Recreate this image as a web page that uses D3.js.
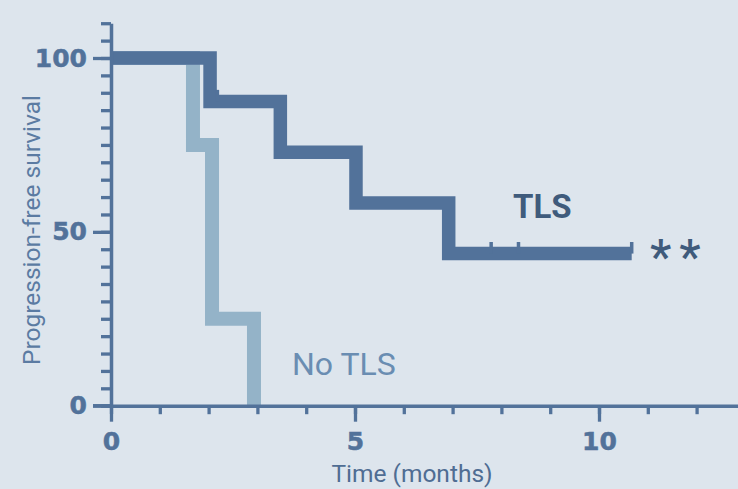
<!DOCTYPE html>
<html>
<head>
<meta charset="utf-8">
<script src="https://cdn.jsdelivr.net/npm/d3@7"></script>
<style>
  html, body { margin: 0; padding: 0; background: #dde5ed; }
  svg { display: block; }
</style>
</head>
<body>
<svg id="chart" width="738" height="489"></svg>
<script>
// Kaplan–Meier steps: event times (months) and survival (%) after each step
const tlsTimes = [0, 2.03, 3.47, 5.02, 6.92];
const tlsSurvival = [100, 87.5, 72.9, 58.3, 43.75];
const tlsEnd = 10.67;
const tlsCensored = [2.18, 7.79, 8.35, 10.67];

const noTlsTimes = [0, 1.68, 2.07, 2.93];
const noTlsSurvival = [100, 75, 25, 0];
const noTlsEnd = 2.93;

const yMajorTicks = [0, 50, 100];
const xMajorTicks = [0, 5, 10];

const axisColor = "#52729a";
const tlsColor = "#52729a";
const noTlsColor = "#94b3c8";

const svg = d3.select("#chart");

const x = d3.scaleLinear().domain([0, 13]).range([111, 111 + 48.8 * 13]);
const y = d3.scaleLinear().domain([0, 110]).range([405.7, 405.7 - 3.477 * 110]);

// step path built from the survival table
function stepPoints(times, surv, end) {
  const pts = [[times[0], surv[0]]];
  for (let i = 1; i < times.length; i++) {
    pts.push([times[i], surv[i - 1]]);
    pts.push([times[i], surv[i]]);
  }
  if (end > times[times.length - 1]) pts.push([end, surv[surv.length - 1]]);
  return pts;
}
const line = d3.line().x(d => x(d[0])).y(d => y(d[1]));

function survivalAt(times, surv, t) {
  let s = surv[0];
  for (let i = 0; i < times.length; i++) if (times[i] <= t) s = surv[i];
  return s;
}

// curves
svg.append("path")
  .attr("d", line(stepPoints(noTlsTimes, noTlsSurvival, noTlsEnd)))
  .attr("fill", "none").attr("stroke", noTlsColor)
  .attr("stroke-width", 14).attr("stroke-linejoin", "miter").attr("stroke-linecap", "butt");

svg.append("path")
  .attr("d", line(stepPoints(tlsTimes, tlsSurvival, tlsEnd)))
  .attr("fill", "none").attr("stroke", tlsColor)
  .attr("stroke-width", 13.5).attr("stroke-linejoin", "miter").attr("stroke-linecap", "butt");

// censor marks
svg.selectAll("line.censor").data(tlsCensored).join("line")
  .attr("class", "censor")
  .attr("x1", d => x(d)).attr("x2", d => x(d))
  .attr("y1", d => y(survivalAt(tlsTimes, tlsSurvival, d)))
  .attr("y2", d => y(survivalAt(tlsTimes, tlsSurvival, d)) - 11.6)
  .attr("stroke", tlsColor).attr("stroke-width", 3.5);

// axes
function styleAxis(g) {
  g.selectAll(".domain").attr("stroke", axisColor).attr("stroke-width", 3.5);
  g.selectAll(".tick line").attr("stroke", axisColor).attr("stroke-width", 3.3);
  g.selectAll(".tick text")
    .attr("fill", axisColor)
    .attr("stroke", axisColor)
    .attr("stroke-width", 0.5)
    .attr("font-family", "DejaVu Sans")
    .attr("font-weight", "bold")
    .attr("font-size", 25);
}

const yMinor = svg.append("g").attr("transform", `translate(${x(0)},0)`)
  .call(d3.axisLeft(y).tickValues(d3.range(0, 111, 5)).tickSize(10).tickFormat("").tickSizeOuter(0));
styleAxis(yMinor);
const yMajor = svg.append("g").attr("transform", `translate(${x(0)},0)`)
  .call(d3.axisLeft(y).tickValues(yMajorTicks).tickSize(18).tickPadding(6).tickSizeOuter(0));
styleAxis(yMajor);
yMajor.select(".domain").remove();

const xMinor = svg.append("g").attr("transform", `translate(0,${y(0)})`)
  .call(d3.axisBottom(x).tickValues(d3.range(0, 14, 1)).tickSize(8.5).tickFormat("").tickSizeOuter(0));
styleAxis(xMinor);
const xMajor = svg.append("g").attr("transform", `translate(0,${y(0)})`)
  .call(d3.axisBottom(x).tickValues(xMajorTicks).tickSize(16).tickPadding(11).tickSizeOuter(0));
styleAxis(xMajor);
xMajor.select(".domain").remove();

// x-axis line reaches left to the major tick at 0
svg.append("line")
  .attr("x1", x(0) - 18).attr("x2", x(0))
  .attr("y1", y(0)).attr("y2", y(0))
  .attr("stroke", axisColor).attr("stroke-width", 3.3);

// axis titles
svg.append("text")
  .attr("x", 412).attr("y", 482)
  .attr("text-anchor", "middle")
  .attr("font-family", "Roboto").attr("font-size", 24.5)
  .attr("fill", "#4f6d93")
  .text("Time (months)");

svg.append("text")
  .attr("transform", "translate(39.5,230) rotate(-90)")
  .attr("text-anchor", "middle")
  .attr("font-family", "Roboto").attr("font-size", 24.5)
  .attr("fill", "#5b7ba2")
  .text("Progression-free survival");

// curve labels
svg.append("text")
  .attr("x", 513).attr("y", 218)
  .attr("font-family", "Roboto").attr("font-weight", "bold").attr("font-size", 33)
  .attr("fill", "#3f5b7c")
  .text("TLS");

svg.append("text")
  .attr("x", 292).attr("y", 375)
  .attr("font-family", "Roboto").attr("font-size", 32)
  .attr("fill", "#6a8db2")
  .text("No TLS");

svg.append("text")
  .attr("x", 650).attr("y", 273)
  .attr("font-family", "Roboto").attr("font-weight", 500).attr("font-size", 48)
  .attr("letter-spacing", 8)
  .attr("fill", "#3f5b7c")
  .text("**");
</script>
</body>
</html>
